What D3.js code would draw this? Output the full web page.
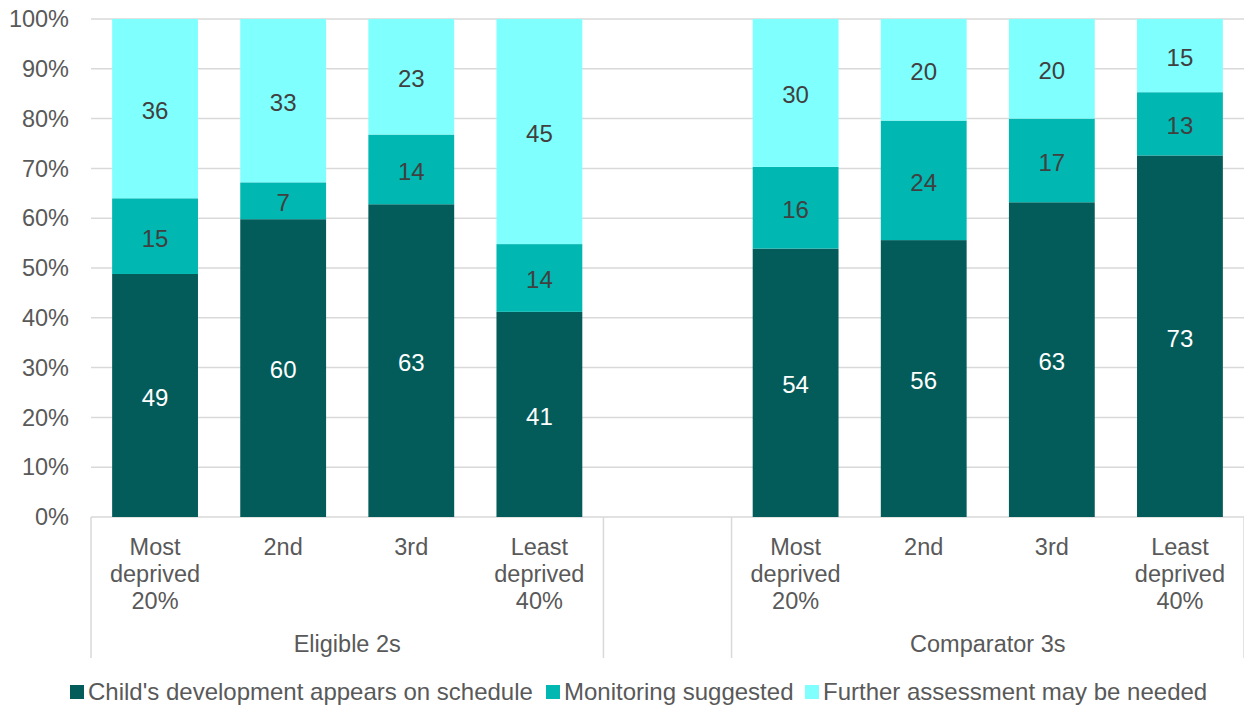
<!DOCTYPE html>
<html>
<head>
<meta charset="utf-8">
<title>Development by deprivation</title>
<script src="https://d3js.org/d3.v7.min.js"></script>
<style>
  body { margin: 0; background: #fff; }
  text { font-family: "Liberation Sans", Arial, sans-serif; }
</style>
</head>
<body>
<div id="chart"></div>
<script>
// data
var groups = ["Eligible 2s", "Comparator 3s"];
var quintiles = [["Most", "deprived", "20%"], ["2nd"], ["3rd"], ["Least", "deprived", "40%"]];
var seriesNames = ["Child's development appears on schedule", "Monitoring suggested", "Further assessment may be needed"];
var onSchedule = [48.8, 59.8, 62.8, 41.2, 53.9, 55.6, 63.2, 72.6];
var monitoring = [15.2, 7.4, 14.0, 13.6, 16.4, 24.0, 16.8, 12.7];
var furtherAssessment = [36.0, 32.8, 23.2, 45.2, 29.7, 20.4, 20.0, 14.7];
var yTicks = [0, 10, 20, 30, 40, 50, 60, 70, 80, 90, 100];

var colors = ["#035c5a", "#00b7b1", "#80ffff"];
var labelColors = ["#ffffff", "#404040", "#404040"];
var fontSize = 23.5;

var width = 1244, height = 709;
var margin = {top: 19, left: 91, right: 0, bottom: 192};

var svg = d3.select("#chart").append("svg")
  .attr("width", width)
  .attr("height", height);

// slot list: 4 bars, a blank gap, 4 bars
var slots = ["e0", "e1", "e2", "e3", "gap", "c0", "c1", "c2", "c3"];
var rows = [];
for (var i = 0; i < 8; i++) {
  rows.push({
    slot: i < 4 ? "e" + i : "c" + (i - 4),
    q: i % 4,
    values: [onSchedule[i], monitoring[i], furtherAssessment[i]]
  });
}

var x = d3.scaleBand().domain(slots).range([margin.left, width - margin.right]).paddingInner(0.33).paddingOuter(0.165);
var y = d3.scaleLinear().domain([0, 100]).range([height - margin.bottom, margin.top]);

// gridlines
svg.append("g").selectAll("line")
  .data(yTicks).enter().append("line")
  .attr("x1", margin.left).attr("x2", width - margin.right)
  .attr("y1", function(d){ return y(d); })
  .attr("y2", function(d){ return y(d); })
  .attr("stroke", "#d9d9d9")
  .attr("stroke-width", 1.5);

// y labels
svg.append("g").selectAll("text")
  .data(yTicks).enter().append("text")
  .attr("x", 69)
  .attr("y", function(d){ return y(d); })
  .attr("dy", "0.35em")
  .attr("text-anchor", "end")
  .attr("font-size", fontSize)
  .attr("fill", "#595959")
  .text(function(d){ return d + "%"; });

// stacked bars
var stackData = rows.map(function(r){ return {slot: r.slot, s0: r.values[0], s1: r.values[1], s2: r.values[2]}; });
var stack = d3.stack().keys(["s0", "s1", "s2"]);
var layers = stack(stackData);

var layer = svg.append("g").selectAll("g")
  .data(layers).enter().append("g")
  .attr("fill", function(d, i){ return colors[i]; });

layer.selectAll("rect")
  .data(function(d){ return d; }).enter().append("rect")
  .attr("x", function(d){ return x(d.data.slot); })
  .attr("width", x.bandwidth())
  .attr("y", function(d){ return y(Math.min(d[1], 100)); })
  .attr("height", function(d){ return y(d[0]) - y(Math.min(d[1], 100)); });

layer.each(function(L, li) {
  d3.select(this).selectAll("text")
    .data(L).enter().append("text")
    .attr("x", function(d){ return x(d.data.slot) + x.bandwidth() / 2; })
    .attr("y", function(d){ return y((d[0] + Math.min(d[1], 100)) / 2) + 2; })
    .attr("dy", "0.35em")
    .attr("text-anchor", "middle")
    .attr("font-size", 24)
    .attr("fill", labelColors[li])
    .text(function(d){ return Math.round(d[1] - d[0]); });
});

// category labels
var baseY = y(0);
svg.append("g").selectAll("text")
  .data(rows).enter().append("text")
  .attr("x", function(d){ return x(d.slot) + x.bandwidth() / 2; })
  .attr("y", baseY + 38)
  .attr("text-anchor", "middle")
  .attr("font-size", fontSize)
  .attr("fill", "#595959")
  .each(function(d){
    var t = d3.select(this);
    quintiles[d.q].forEach(function(line, k){
      t.append("tspan").attr("x", x(d.slot) + x.bandwidth() / 2).attr("dy", k === 0 ? 0 : 27).text(line);
    });
  });

// group separators
var step = x.step();
var sepX = [margin.left, margin.left + 4 * step, margin.left + 5 * step, width - margin.right];
svg.append("g").selectAll("line")
  .data(sepX).enter().append("line")
  .attr("x1", function(d){ return d; }).attr("x2", function(d){ return d; })
  .attr("y1", baseY).attr("y2", baseY + 141)
  .attr("stroke", "#d9d9d9")
  .attr("stroke-width", 1.5);

// group labels
svg.append("g").selectAll("text")
  .data(groups).enter().append("text")
  .attr("x", function(d, i){ return i === 0 ? (sepX[0] + sepX[1]) / 2 : (sepX[2] + sepX[3]) / 2; })
  .attr("y", baseY + 135)
  .attr("text-anchor", "middle")
  .attr("font-size", fontSize)
  .attr("fill", "#595959")
  .text(function(d){ return d; });

// legend
var legendX = [70, 546, 805];
var legend = svg.append("g").selectAll("g")
  .data(seriesNames).enter().append("g")
  .attr("transform", function(d, i){ return "translate(" + legendX[i] + ",692)"; });
legend.append("rect")
  .attr("x", 0).attr("y", -7).attr("width", 14).attr("height", 14)
  .attr("fill", function(d, i){ return colors[i]; });
legend.append("text")
  .attr("x", 18).attr("dy", "0.35em")
  .attr("font-size", 24)
  .attr("fill", "#595959")
  .text(function(d){ return d; });
</script>
</body>
</html>
